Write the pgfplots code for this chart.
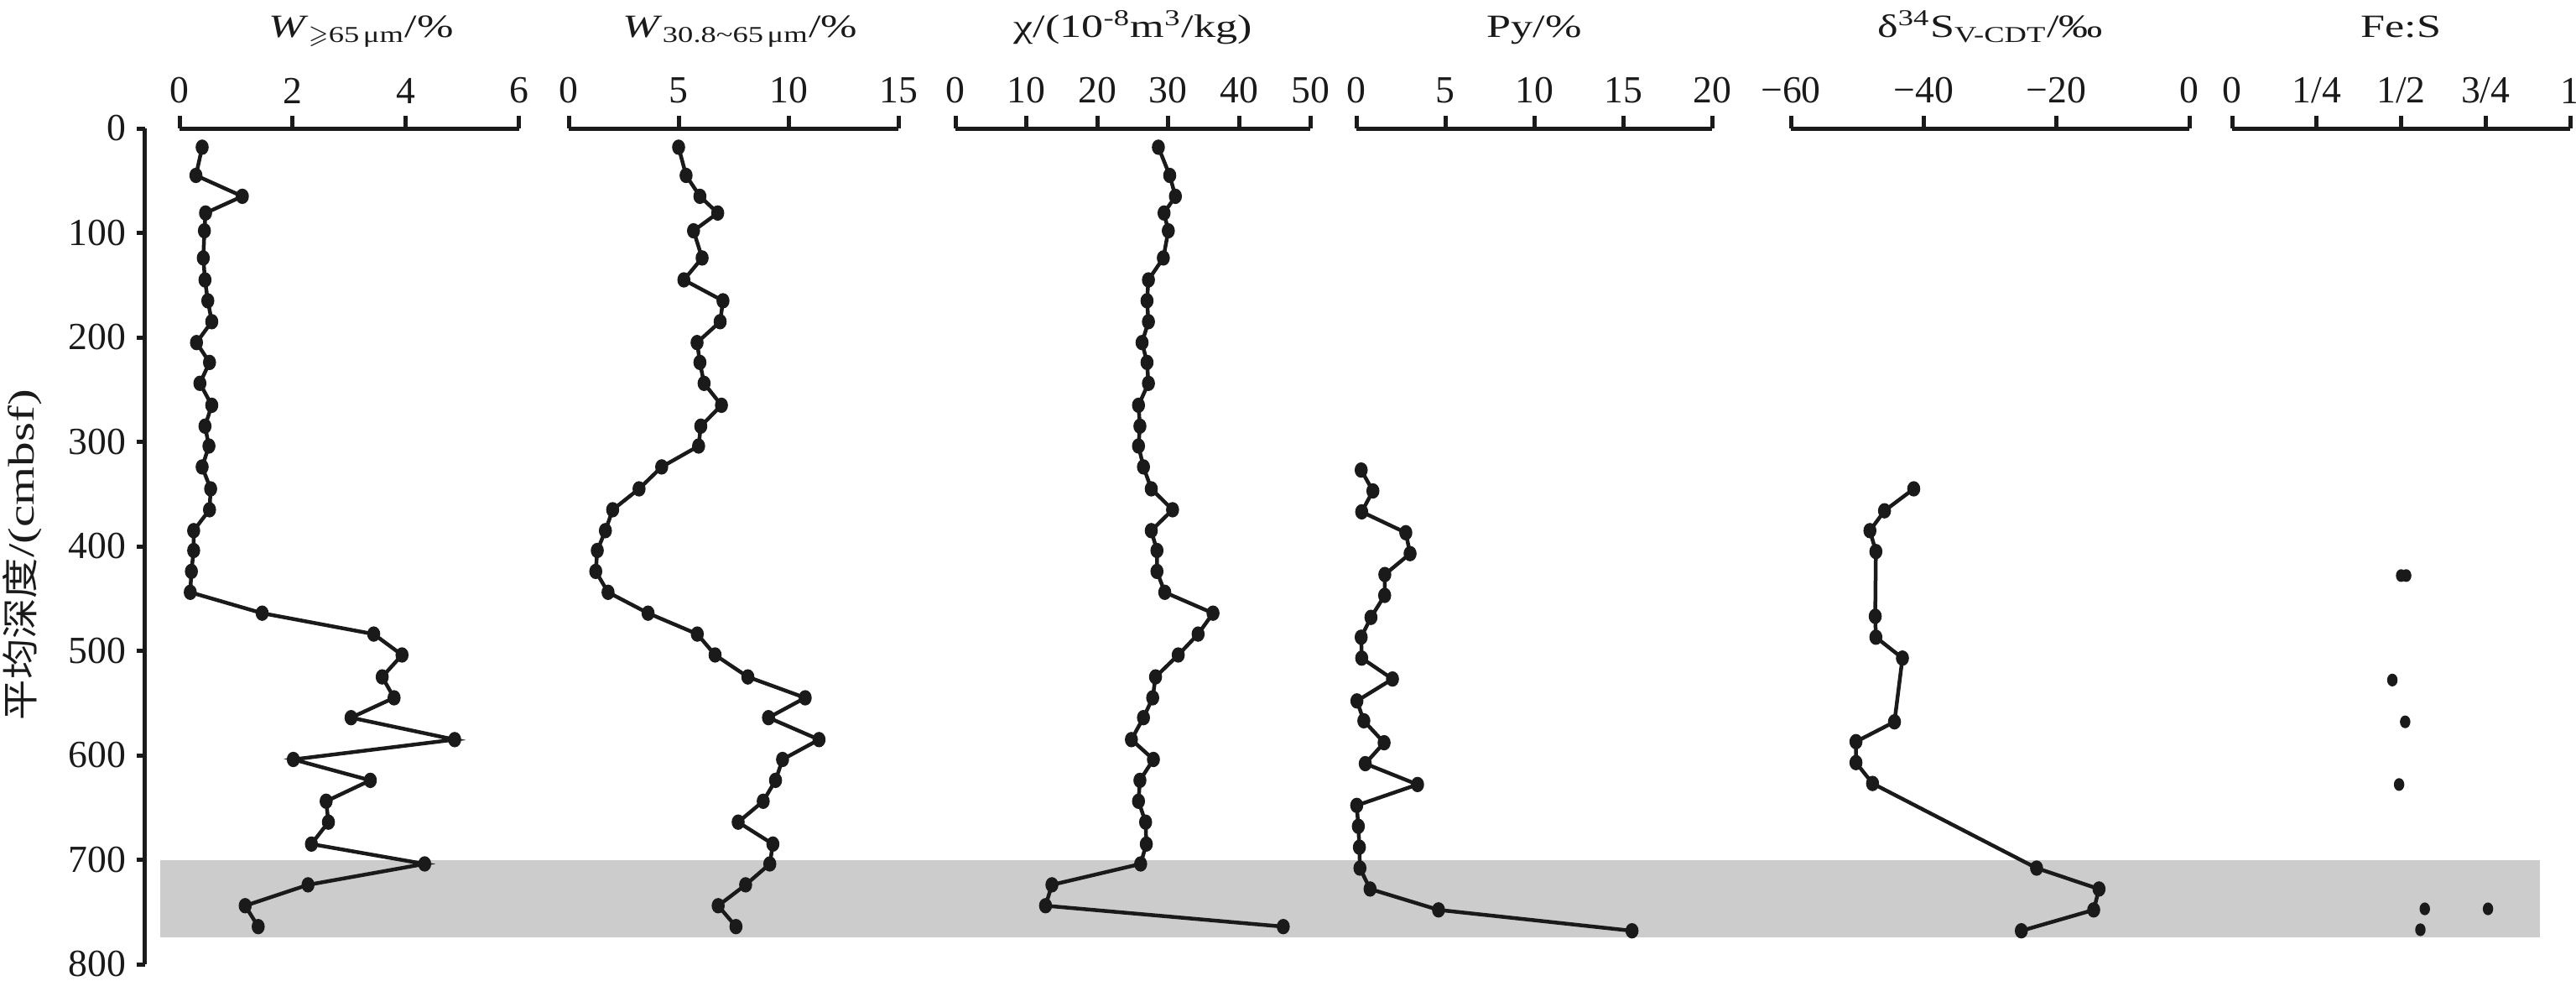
\documentclass[border=0pt]{standalone}
\usepackage{amssymb}
\usepackage{fontspec}
\setmainfont{Liberation Serif}
\newfontfamily\titlefont{Liberation Serif}[FakeStretch=1.35]
\newfontfamily\cjk{Noto Sans CJK SC}[FakeStretch=1.1]
\usepackage{pgfplots}
\pgfplotsset{compat=1.18}
\definecolor{bandgray}{RGB}{204,204,204}
\definecolor{ink}{RGB}{26,26,26}

\pgfplotstableread{
d w65 w30 chi
18 0.40 5.00 28.6
45 0.29 5.34 30.2
65 1.11 5.97 31.0
81 0.46 6.78 29.4
98 0.44 5.68 30.0
124 0.42 6.07 29.3
145 0.45 5.24 27.2
165 0.50 7.02 27.0
185 0.57 6.89 27.2
205 0.30 5.84 26.3
224 0.53 5.97 27.0
244 0.36 6.16 27.2
265 0.57 6.95 25.8
285 0.45 6.01 26.0
304 0.52 5.91 25.8
324 0.40 4.23 26.5
345 0.55 3.20 27.6
365 0.53 2.00 30.6
385 0.25 1.67 27.6
404 0.25 1.30 28.4
424 0.21 1.23 28.4
444 0.19 1.79 29.5
464 1.46 3.61 36.3
484 3.43 5.85 34.2
504 3.93 6.66 31.4
525 3.58 8.15 28.2
545 3.79 10.76 27.8
564 3.03 9.09 26.5
585 4.86 11.39 24.8
604 2.01 9.73 27.9
624 3.37 9.41 26.0
644 2.59 8.85 25.8
664 2.63 7.71 26.8
685 2.33 9.29 26.9
704 4.33 9.15 26.1
724 2.27 8.05 13.6
744 1.16 6.80 12.7
764 1.39 7.61 46.2
}\tabA

\pgfplotstableread{
d py
327 0.27
347 0.93
367 0.30
387 2.78
407 3.02
427 1.60
447 1.59
468 0.82
487 0.27
507 0.30
527 2.03
548 0.03
567 0.42
588 1.56
608 0.50
628 3.44
648 0.02
668 0.11
688 0.17
708 0.20
728 0.77
748 4.62
768 15.5
}\tabPy

\pgfplotstableread{
d s
345 -41.5
366 -45.9
385 -48.1
405 -47.2
467 -47.3
487 -47.2
507 -43.2
568 -44.4
587 -50.2
607 -50.2
627 -47.7
708 -23.0
728 -13.6
748 -14.4
768 -25.3
}\tabS

\pgfplotstableread{
d fes
428 0.500
428 0.515
528 0.474
568 0.512
628 0.494
747 0.570
747 0.757
767 0.557
}\tabFe

\pgfplotsset{
  panel/.style={
    anchor=north west, scale only axis, height=99.6mm,
    ymin=0, ymax=800, y dir=reverse,
    axis x line=top, axis y line=none,
    x axis line style={-}, axis line style={line width=0.5mm, draw=ink, -},
    tick align=outside, major tick length=1.5mm,
    every tick/.append style={line width=0.5mm, draw=ink},
    tick label style={font=\fontsize{13}{15}\selectfont, text=ink},
    xticklabel shift=0.25mm,
    title style={font=\titlefont\fontsize{11}{13}\selectfont, text=ink,
      at={(axis description cs:0.5,1)}, anchor=base, yshift=8.7mm},
    clip=false,
  },
  dat/.style={ink, line width=0.45mm, mark=*, mark size=0.55mm,
    mark options={solid, fill=ink, yscale=1.25}},
}

\begin{document}
\begin{tikzpicture}
\path[use as bounding box] (0,0) rectangle (307.1mm,-116.9mm);

% gray band
\begin{axis}[at={(19.1mm,-15.3mm)}, anchor=north west, scale only axis,
  width=283.7mm, height=99.6mm, xmin=0, xmax=1, ymin=0, ymax=800,
  y dir=reverse, hide axis]
\addplot[fill=bandgray, draw=none] coordinates {(0,700) (1,700) (1,774) (0,774)} -- cycle;
\end{axis}

% depth axis
\begin{axis}[at={(17.25mm,-15.3mm)}, anchor=north west, scale only axis,
  width=1mm, height=99.6mm, xmin=0, xmax=1, ymin=0, ymax=800, y dir=reverse,
  axis y line=left, axis x line=none,
  y axis line style={-}, axis line style={line width=0.5mm, draw=ink, -},
  tick align=outside, major tick length=1mm,
  every tick/.append style={line width=0.5mm, draw=ink},
  ytick={0,100,200,300,400,500,600,700,800},
  yticklabels={0,100,200,300,400,500,600,700,800},
  tick label style={font=\fontsize{13}{15}\selectfont, text=ink},
  ylabel={{\cjk 平均深度}{\titlefont/(cmbsf)}},
  ylabel style={font=\fontsize{12.5}{14}\selectfont, text=ink,
    at={(axis description cs:-14.55,0.49)}, anchor=center},
  clip=false]
\addplot[draw=none] coordinates {(0,0)};
\end{axis}

% panel 1
\begin{axis}[panel, at={(21.4mm,-15.3mm)}, width=40.5mm,
  xmin=0, xmax=6, xtick={0,2,4,6}, xticklabels={0,2,4,6},
  title={\textit{W}\textsubscript{$\geqslant$65\,μm}/\%},
  title style={xshift=1.4mm}]
\addplot[dat] table[x=w65, y=d] {\tabA};
\end{axis}

% panel 2
\begin{axis}[panel, at={(67.8mm,-15.3mm)}, width=39.3mm,
  xmin=0, xmax=15, xtick={0,5,10,15}, xticklabels={0,5,10,15},
  title={\textit{W}\textsubscript{30.8\textasciitilde65\,μm}/\%},
  title style={xshift=0.8mm}]
\addplot[dat] table[x=w30, y=d] {\tabA};
\end{axis}

% panel 3
\begin{axis}[panel, at={(113.9mm,-15.3mm)}, width=42.3mm,
  xmin=0, xmax=50, xtick={0,10,20,30,40,50}, xticklabels={0,10,20,30,40,50},
  title={χ/(10\textsuperscript{-8}m\textsuperscript{3}/kg)}]
\addplot[dat] table[x=chi, y=d] {\tabA};
\end{axis}

% panel 4
\begin{axis}[panel, at={(161.7mm,-15.3mm)}, width=42.4mm,
  xmin=0, xmax=20, xtick={0,5,10,15,20}, xticklabels={0,5,10,15,20},
  title={Py/\%}]
\addplot[dat] table[x=py, y=d] {\tabPy};
\end{axis}

% panel 5
\begin{axis}[panel, at={(213.5mm,-15.3mm)}, width=47.5mm,
  xmin=-60, xmax=0, xtick={-60,-40,-20,0}, xticklabels={−60,−40,−20,0},
  title={δ\textsuperscript{34}S\textsubscript{V-CDT}/‰}]
\addplot[dat] table[x=s, y=d] {\tabS};
\end{axis}

% panel 6
\begin{axis}[panel, at={(266.1mm,-15.3mm)}, width=40.3mm,
  xmin=0, xmax=1, xtick={0,0.25,0.5,0.75,1}, xticklabels={0,1/4,1/2,3/4,1},
  title={Fe:S}]
\addplot[ink, only marks, mark=*, mark size=0.55mm, mark options={fill=ink, yscale=1.25}]
  table[x=fes, y=d] {\tabFe};
\end{axis}
\end{tikzpicture}
\end{document}
